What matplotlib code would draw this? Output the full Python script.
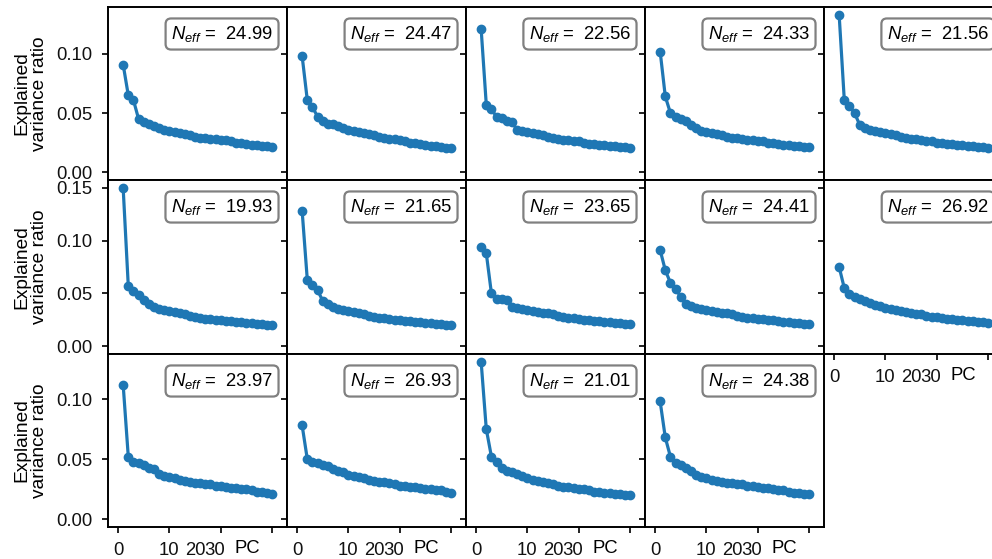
import matplotlib
matplotlib.use("Agg")
import matplotlib.pyplot as plt
import matplotlib.transforms as mtransforms
import numpy as np

plt.rcParams['font.family'] = ['Liberation Sans', 'DejaVu Sans']
plt.rcParams['mathtext.fontset'] = 'custom'
plt.rcParams['mathtext.rm'] = 'Liberation Sans'
plt.rcParams['mathtext.it'] = 'Liberation Sans:italic'

pcs = list(range(1, 31))

neff = [[24.99, 24.47, 22.56, 24.33, 21.56],
        [19.93, 21.65, 23.65, 24.41, 26.92],
        [23.97, 26.93, 21.01, 24.38]]

r1c1 = [0.091, 0.065, 0.061, 0.045, 0.042, 0.041, 0.039, 0.037, 0.036, 0.035, 0.034, 0.033, 0.032, 0.031, 0.030,
        0.029, 0.029, 0.028, 0.028, 0.027, 0.027, 0.026, 0.025, 0.025, 0.024, 0.023, 0.023, 0.022, 0.022, 0.021]
r1c2 = [0.098, 0.061, 0.055, 0.047, 0.043, 0.041, 0.041, 0.039, 0.037, 0.036, 0.035, 0.034, 0.033, 0.032, 0.031,
        0.030, 0.029, 0.028, 0.028, 0.027, 0.026, 0.025, 0.025, 0.024, 0.023, 0.022, 0.022, 0.021, 0.020, 0.020]
r1c3 = [0.121, 0.057, 0.053, 0.047, 0.046, 0.043, 0.042, 0.036, 0.035, 0.034, 0.033, 0.032, 0.031, 0.030, 0.029,
        0.028, 0.027, 0.027, 0.026, 0.026, 0.025, 0.024, 0.024, 0.023, 0.023, 0.022, 0.022, 0.021, 0.021, 0.020]
r1c4 = [0.102, 0.064, 0.050, 0.047, 0.045, 0.043, 0.040, 0.037, 0.035, 0.034, 0.033, 0.032, 0.031, 0.030, 0.029,
        0.029, 0.028, 0.027, 0.027, 0.026, 0.026, 0.025, 0.025, 0.024, 0.023, 0.023, 0.022, 0.022, 0.021, 0.021]
r1c5 = [0.133, 0.061, 0.056, 0.050, 0.040, 0.037, 0.036, 0.035, 0.034, 0.033, 0.032, 0.031, 0.030, 0.029, 0.028,
        0.028, 0.027, 0.026, 0.026, 0.025, 0.025, 0.024, 0.024, 0.023, 0.023, 0.022, 0.022, 0.021, 0.021, 0.020]

r2c1 = [0.150, 0.057, 0.052, 0.048, 0.044, 0.040, 0.037, 0.035, 0.034, 0.033, 0.032, 0.031, 0.030, 0.029, 0.028,
        0.027, 0.026, 0.026, 0.025, 0.025, 0.024, 0.024, 0.023, 0.023, 0.022, 0.022, 0.021, 0.021, 0.020, 0.020]
r2c2 = [0.128, 0.063, 0.058, 0.053, 0.043, 0.040, 0.037, 0.035, 0.034, 0.033, 0.032, 0.031, 0.030, 0.029, 0.028,
        0.027, 0.027, 0.026, 0.025, 0.025, 0.024, 0.024, 0.023, 0.023, 0.022, 0.022, 0.021, 0.021, 0.020, 0.020]
r2c3 = [0.094, 0.088, 0.050, 0.045, 0.045, 0.044, 0.037, 0.036, 0.035, 0.034, 0.033, 0.032, 0.031, 0.031, 0.030,
        0.029, 0.028, 0.027, 0.027, 0.026, 0.025, 0.025, 0.024, 0.024, 0.023, 0.023, 0.022, 0.022, 0.021, 0.021]
r2c4 = [0.091, 0.072, 0.060, 0.054, 0.047, 0.040, 0.038, 0.036, 0.035, 0.034, 0.033, 0.032, 0.031, 0.031, 0.030,
        0.029, 0.028, 0.027, 0.027, 0.026, 0.026, 0.025, 0.025, 0.024, 0.023, 0.023, 0.022, 0.022, 0.021, 0.021]
r2c5 = [0.075, 0.055, 0.049, 0.047, 0.045, 0.043, 0.041, 0.039, 0.038, 0.036, 0.035, 0.034, 0.033, 0.032, 0.031,
        0.030, 0.030, 0.029, 0.028, 0.028, 0.027, 0.026, 0.026, 0.025, 0.025, 0.024, 0.024, 0.023, 0.023, 0.022]

r3c1 = [0.112, 0.052, 0.048, 0.047, 0.045, 0.043, 0.042, 0.038, 0.036, 0.035, 0.034, 0.033, 0.032, 0.031, 0.030,
        0.030, 0.029, 0.029, 0.028, 0.028, 0.027, 0.026, 0.026, 0.025, 0.025, 0.024, 0.023, 0.023, 0.022, 0.021]
r3c2 = [0.078, 0.050, 0.048, 0.047, 0.045, 0.044, 0.042, 0.040, 0.039, 0.037, 0.036, 0.035, 0.034, 0.033, 0.032,
        0.031, 0.031, 0.030, 0.029, 0.028, 0.028, 0.027, 0.027, 0.026, 0.025, 0.025, 0.024, 0.024, 0.023, 0.022]
r3c3 = [0.131, 0.075, 0.052, 0.048, 0.043, 0.040, 0.039, 0.038, 0.036, 0.034, 0.033, 0.032, 0.031, 0.030, 0.029,
        0.028, 0.027, 0.027, 0.026, 0.025, 0.025, 0.024, 0.023, 0.023, 0.022, 0.022, 0.021, 0.021, 0.020, 0.020]
r3c4 = [0.098, 0.068, 0.052, 0.047, 0.045, 0.043, 0.040, 0.037, 0.035, 0.034, 0.033, 0.032, 0.031, 0.030, 0.030,
        0.029, 0.029, 0.028, 0.028, 0.027, 0.026, 0.026, 0.025, 0.024, 0.024, 0.023, 0.022, 0.022, 0.021, 0.021]

series = [[r1c1, r1c2, r1c3, r1c4, r1c5],
          [r2c1, r2c2, r2c3, r2c4, r2c5],
          [r3c1, r3c2, r3c3, r3c4]]

xticks = [0, 10, 20, 30]
xticklabels = ['0', '10', '20', '30']
yticks = [[0.00, 0.05, 0.10], [0.00, 0.05, 0.10, 0.15], [0.00, 0.05, 0.10]]
ylabel = 'Explained\nvariance ratio'
xlabel = 'PC'

W, H = 992, 559
fig = plt.figure(figsize=(W / 100, H / 100), dpi=100)

lefts = [108, 287, 466, 645, 824]
pw = 179
tops = [7, 180, 354]
bottoms = [180, 354, 527]
label_shift_px = [0, 0, -25, -57]
FS = 13.3

for r in range(3):
    row_max = max(max(s) for s in series[r])
    for c in range(len(series[r])):
        vals = series[r][c]
        x0 = lefts[c] / W
        y0 = 1 - bottoms[r] / H
        ph = bottoms[r] - tops[r]
        ax = fig.add_axes([x0, y0, pw / W, ph / H])
        ax.plot(pcs, vals, '-o', color='#1f77b4', lw=2.3, ms=6.0, clip_on=False)
        ax.set_xlim(-1.95, 32.9)
        ax.set_ylim(-0.05 * row_max, 1.05 * row_max)
        ax.set_yticks(yticks[r])
        for sp in ax.spines.values():
            sp.set_linewidth(1.4)
        ax.tick_params(axis='both', direction='out', length=4.5, width=1.3, labelsize=FS, colors='#111111')
        ax.tick_params(axis='y', pad=6.5)
        if c == 0:
            ax.set_yticklabels(['%.2f' % v for v in yticks[r]])
            ax.set_ylabel(ylabel, fontsize=13.8, linespacing=1.05)
            ax.yaxis.set_label_coords((48 - lefts[c]) / pw, 0.5)
        else:
            ax.set_yticklabels([])
        show_x = (r == 2) or (r == 1 and c == 4)
        ax.set_xticks(xticks)
        if show_x:
            ax.set_xticklabels(xticklabels)
            ax.tick_params(axis='x', pad=6.5)
            for lab, dx in zip(ax.get_xticklabels(), label_shift_px):
                lab.set_transform(lab.get_transform() + mtransforms.ScaledTranslation(dx / 100, 0, fig.dpi_scale_trans))
            ax.set_xlabel(xlabel, fontsize=FS)
            ax.xaxis.set_label_coords(0.78, -13 / ph)
        else:
            ax.tick_params(axis='x', length=0, labelbottom=False)
        ax.text((pw - 14) / pw, 1 - 17 / ph, r'$N_{eff}$ =  %.2f' % neff[r][c], transform=ax.transAxes,
                ha='right', va='top', fontsize=FS,
                bbox=dict(boxstyle='round,pad=0.3', fc='white', ec='#808080', lw=1.6))

fig.savefig('out.png', dpi=100)
